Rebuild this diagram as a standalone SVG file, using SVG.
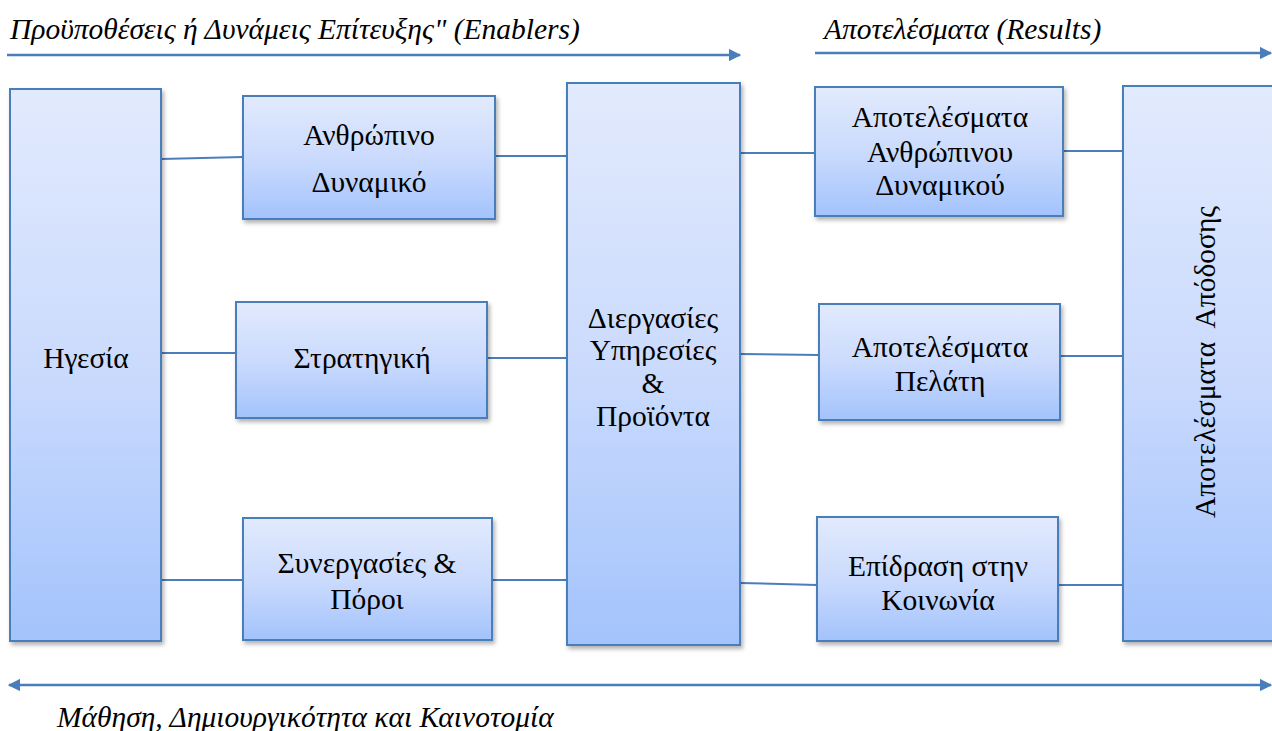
<svg xmlns="http://www.w3.org/2000/svg" width="1272" height="731" viewBox="0 0 1272 731">
  <style>
    .box { stroke: #4a7ebb; stroke-width: 2; filter: url(#shadow); }
    .grad { fill: url(#fillBlue); }
    text { font-family: "Liberation Serif", "Times New Roman", serif; fill: #000; }
    .label { font-size: 29.5px; text-anchor: middle; }
    .caption { font-size: 29.5px; font-style: italic; }
    .link { stroke: #4a7ebb; stroke-width: 2; fill: none; }
    .flow { stroke: #4a7ebb; stroke-width: 2.5; fill: none; }
  </style>
  <defs>
    <linearGradient id="fillBlue" x1="0" y1="0" x2="0" y2="1">
      <stop offset="0" stop-color="#e2eafd"/>
      <stop offset="0.5" stop-color="#cbdbfd"/>
      <stop offset="1" stop-color="#a3c3fc"/>
    </linearGradient>
    <filter id="shadow" x="-10%" y="-10%" width="120%" height="125%">
      <feDropShadow dx="2" dy="3" stdDeviation="2" flood-color="#000" flood-opacity="0.3"/>
    </filter>
    <marker id="headEnd" viewBox="0 0 10 10" refX="9" refY="5" markerWidth="5" markerHeight="5" orient="auto" markerUnits="strokeWidth">
      <path d="M0,0 L10,5 L0,10 z" fill="#4a7ebb"/>
    </marker>
    <marker id="headStart" viewBox="0 0 10 10" refX="1" refY="5" markerWidth="5" markerHeight="5" orient="auto" markerUnits="strokeWidth">
      <path d="M10,0 L0,5 L10,10 z" fill="#4a7ebb"/>
    </marker>
  </defs>

  <rect width="1272" height="731" fill="#fff"/>

  <!-- section captions -->
  <g id="captions">
    <text class="caption" x="10" y="39">Προϋποθέσεις ή Δυνάμεις Επίτευξης" (Enablers)</text>
    <text class="caption" x="824" y="39">Αποτελέσματα (Results)</text>
    <text class="caption" x="57" y="727">Μάθηση, Δημιουργικότητα και Καινοτομία</text>
  </g>

  <!-- direction arrows -->
  <g id="flows">
    <line class="flow" x1="7" y1="55" x2="740" y2="55" marker-end="url(#headEnd)"/>
    <line class="flow" x1="815" y1="53" x2="1271" y2="53" marker-end="url(#headEnd)"/>
    <line class="flow" x1="9" y1="685" x2="1271" y2="685" marker-start="url(#headStart)" marker-end="url(#headEnd)"/>
  </g>

  <!-- connectors -->
  <g id="connectors">
    <line class="link" x1="161" y1="159" x2="243" y2="157"/>
    <line class="link" x1="495" y1="156" x2="567" y2="156"/>
    <line class="link" x1="161" y1="353" x2="236" y2="353"/>
    <line class="link" x1="487" y1="358" x2="567" y2="358"/>
    <line class="link" x1="161" y1="580" x2="243" y2="580"/>
    <line class="link" x1="492" y1="580" x2="567" y2="580"/>
    <line class="link" x1="740" y1="153" x2="815" y2="153"/>
    <line class="link" x1="740" y1="354" x2="819" y2="355"/>
    <line class="link" x1="740" y1="583" x2="817" y2="585"/>
    <line class="link" x1="1063" y1="151" x2="1123" y2="151"/>
    <line class="link" x1="1060" y1="356" x2="1123" y2="356"/>
    <line class="link" x1="1058" y1="585" x2="1123" y2="585"/>
  </g>

  <!-- nodes -->
  <g id="leadership">
    <rect class="box grad" x="10" y="89" width="151" height="552"/>
    <text class="label" x="86" y="368">Ηγεσία</text>
  </g>
  <g id="people">
    <rect class="box grad" x="243" y="96" width="252" height="123"/>
    <text class="label" x="369" y="145">Ανθρώπινο</text>
    <text class="label" x="369" y="192">Δυναμικό</text>
  </g>
  <g id="strategy">
    <rect class="box grad" x="236" y="302" width="251" height="116"/>
    <text class="label" x="362" y="368">Στρατηγική</text>
  </g>
  <g id="partnerships">
    <rect class="box grad" x="243" y="518" width="249" height="122"/>
    <text class="label" x="367" y="573">Συνεργασίες &amp;</text>
    <text class="label" x="367" y="609">Πόροι</text>
  </g>
  <g id="processes">
    <rect class="box grad" x="567" y="83" width="173" height="562"/>
    <text class="label" x="653" y="328">Διεργασίες</text>
    <text class="label" x="653" y="360">Υπηρεσίες</text>
    <text class="label" x="653" y="393">&amp;</text>
    <text class="label" x="653" y="426">Προϊόντα</text>
  </g>
  <g id="people-results">
    <rect class="box grad" x="815" y="87" width="248" height="129"/>
    <text class="label" x="940" y="127">Αποτελέσματα</text>
    <text class="label" x="940" y="162">Ανθρώπινου</text>
    <text class="label" x="940" y="195">Δυναμικού</text>
  </g>
  <g id="customer-results">
    <rect class="box grad" x="819" y="304" width="241" height="116"/>
    <text class="label" x="940" y="357">Αποτελέσματα</text>
    <text class="label" x="940" y="391">Πελάτη</text>
  </g>
  <g id="society-results">
    <rect class="box grad" x="817" y="517" width="241" height="124"/>
    <text class="label" x="938" y="576">Επίδραση στην</text>
    <text class="label" x="938" y="610">Κοινωνία</text>
  </g>
  <g id="performance-results">
    <rect class="box grad" x="1123" y="86" width="160" height="555"/>
    <text class="label" transform="translate(1215,362) rotate(-90)" x="0" y="0" xml:space="preserve">Αποτελέσματα  Απόδοσης</text>
  </g>
</svg>
